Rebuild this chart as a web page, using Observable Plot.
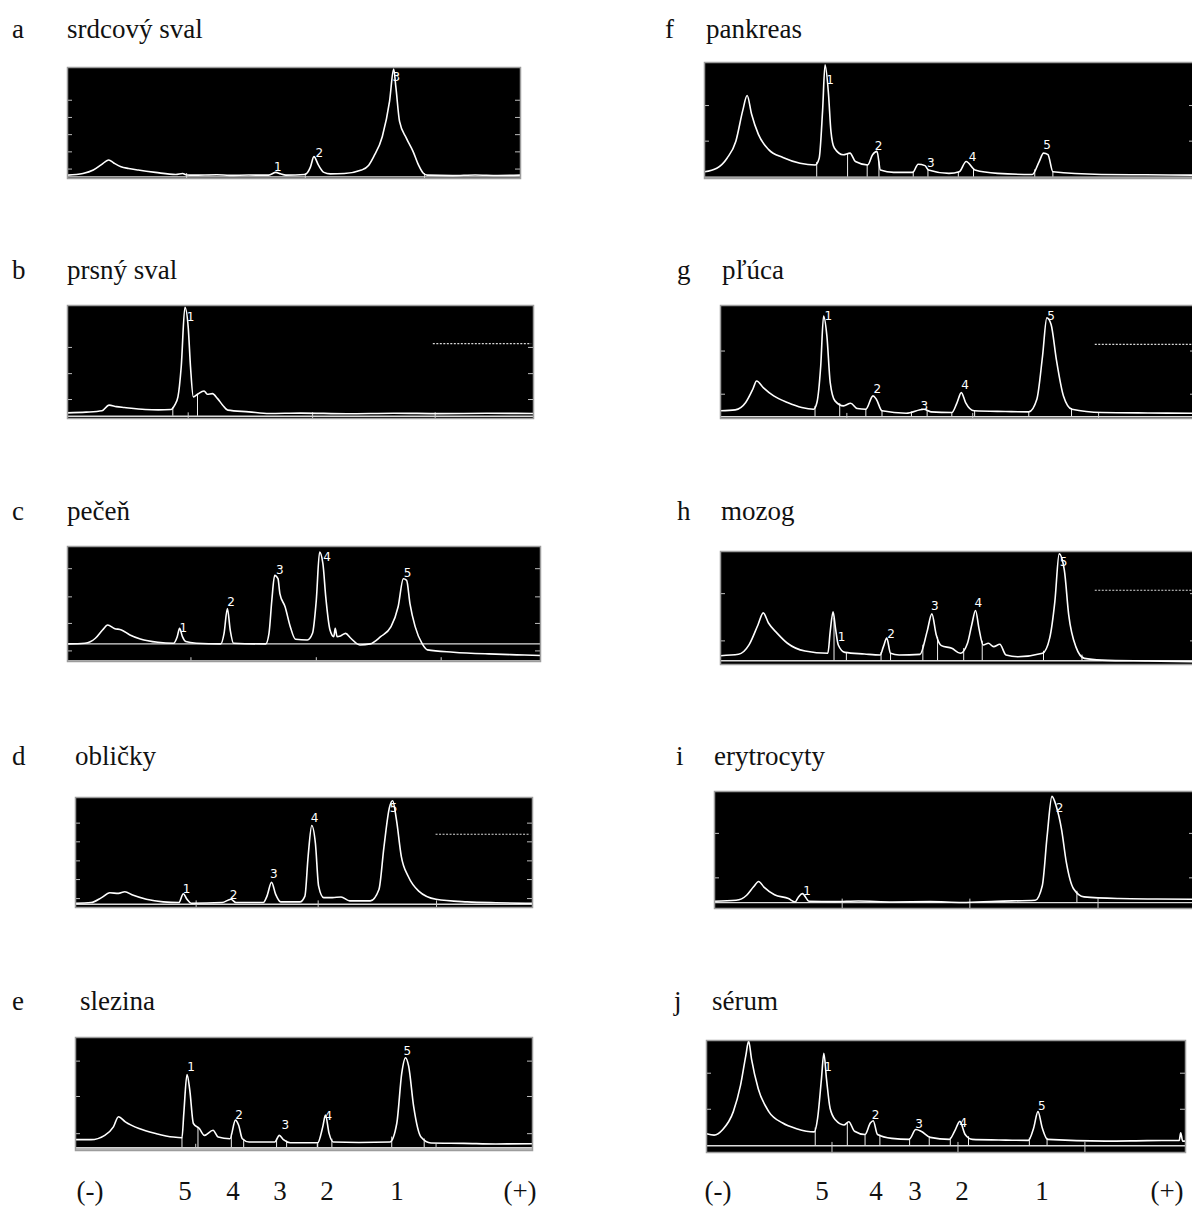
<!DOCTYPE html>
<html>
<head>
<meta charset="utf-8">
<script src="https://cdn.jsdelivr.net/npm/d3@7"></script>
<script src="https://cdn.jsdelivr.net/npm/@observablehq/plot@0.6"></script>
<style>
  html, body { margin: 0; padding: 0; background: #fff; }
  #page { position: relative; width: 1192px; height: 1207px; overflow: hidden; }
  .panel { position: absolute; }
  #labels { position: absolute; left: 0; top: 0; }
  #labels text { font-family: "Liberation Serif", "DejaVu Serif", "Times New Roman", serif; font-size: 27px; fill: #111; }
</style>
</head>
<body>
<div id="page"></div>
<script>
// Densitometric LDH isoenzyme scans of tissue extracts.
// x = migration distance (% of scan length, cathode on the left), y = absorbance (% of full scale).

const tissueLetters = ["a", "b", "c", "d", "e", "f", "g", "h", "i", "j"];
const tissueNames = ["srdcový sval", "prsný sval", "pečeň", "obličky", "slezina",
                     "pankreas", "pľúca", "mozog", "erytrocyty", "sérum"];
const bandLabels = ["(-)", "5", "4", "3", "2", "1", "(+)"];

// ---- a: heart muscle
const traceA = [[0,3],[3.4,4.5],[5.7,7.6],[7.5,12.5],[9.1,16.7],[10.2,14],[11.8,10.6],[13.5,9],[15.6,7.6],[19.4,5.5],
  [23.9,3.6],[25.4,4.5],[26.3,3.2],[27.7,3],[33,3.4],[35.8,2.8],[40,3.1],[44.4,3],[46,5.5],[47,4.2],[48.2,3],
  [52.4,3.6],[53.6,10],[54.4,19.7],[55.4,12],[56.6,5.5],[58,4.2],[61.1,4.5],[64.9,7.6],[66.5,12],[67.6,19.7],
  [69.5,37.9],[71.1,69.7],[72,98.5],[72.5,81.8],[73.3,51.5],[74.8,36.4],[76.3,24.2],[77.5,12],[78.6,4.5],[79.4,3],
  [85,2.6],[90,3.2],[95,2.7],[100,3]];
const peaksA = [{n:"1",x:46.4,y:10},{n:"2",x:55.6,y:23},{n:"3",x:72.6,y:91}];
const cutsA = [];
const sideTicksA = [8.5, 24, 39.5, 55, 70.5];
const axisTicksA = [26.3, 52.5, 78.8];

// ---- b: breast muscle
const traceB = [[0,5],[4,5.6],[7.4,6.8],[8.9,11.8],[10.5,10.5],[12.2,9.7],[16.7,7.9],[19.5,7.6],[22.2,7.9],[23,11.8],
  [23.7,19.1],[24.4,45.6],[25.2,98.5],[25.9,80.9],[26.4,45.6],[27,19.1],[27.9,21.5],[29.3,24.4],[30,21.5],
  [31.1,22],[32.2,17.6],[33.3,11.8],[34.4,7.4],[38.9,5.9],[43.3,4.4],[50,4.8],[60,4.2],[70,4.7],[80,4.3],[90,4.6],[100,4.4]];
const peaksB = [{n:"1",x:26.4,y:90}];
const cutsB = [22.6, 27.9];
const sideTicksB = [16.8, 39.7, 62.9];
const axisTicksB = [25.9, 52.6, 78.9];
const dottedB = {x1:78.5, x2:99.6, y:66.2};

// ---- c: liver
const traceC = [[0,15.3],[3.7,15.9],[5.9,20.2],[7.4,27.4],[8.5,31.7],[9.9,28.8],[11.4,27.4],[13.2,23.1],[15.4,19.6],
  [19.1,16.7],[22.4,15.9],[23.2,21.6],[23.7,28.8],[24.3,21.6],[25,17.3],[27.2,15.9],[32.4,15.3],[33.1,24.5],
  [33.8,46.1],[34.4,27.4],[35.1,15.9],[41.9,15.3],[42.6,24.5],[43.2,53.3],[43.8,74.9],[44.5,72],[44.9,59.1],
  [46,47.6],[47.1,30.3],[48.2,19.3],[50.7,18.7],[51.8,24.5],[52.6,53.3],[53.3,95.1],[54,85],[54.6,56.2],
  [55.5,27.4],[56.3,21.6],[56.6,28.8],[57,21.6],[57.7,22.2],[58.8,24.5],[59.9,20.2],[61.8,14.4],[64,15.3],
  [66.2,21.6],[68.4,30.3],[69.9,47.6],[71,72],[71.7,70.6],[72.4,50.4],[73.5,30.3],[75,15.3],[76.1,10.1],
  [81.6,8.1],[89,6.6],[95,5.8],[100,5.2]];
const peaksC = [{n:"1",x:24.5,y:29},{n:"2",x:34.6,y:52},{n:"3",x:44.9,y:79},{n:"4",x:54.9,y:91},{n:"5",x:71.9,y:77}];
const cutsC = [];
const sideTicksC = [9.2, 33.1, 56.2, 80.7];
const axisTicksC = [26.1, 52.6, 79];

// ---- d: kidney
const traceD = [[0,3.9],[3.4,4.5],[5.7,9],[7.5,13.4],[9.4,12.8],[10.8,14.3],[12.5,11.3],[15.5,7.5],[19.2,5.1],
  [22.6,4.5],[23.6,12.5],[24.4,7.5],[25.3,3.9],[32.1,4.5],[34,7.5],[35.1,4.5],[41.1,4.5],[41.9,10.4],[42.9,23],
  [43.8,11.9],[44.9,5.1],[49.1,5.1],[50.2,10.4],[50.9,46.3],[51.7,74.6],[52.5,58.2],[53.2,19.4],[54.3,9],
  [56.2,9],[58.1,9.6],[60,6],[64.5,6],[66.4,16.4],[67.5,55.2],[68.7,91],[69.4,97],[70.2,80.6],[71.3,46.3],
  [72.8,28.4],[75.1,14.9],[78.9,7.5],[85.7,5.1],[92,4.3],[100,3.9]];
const peaksD = [{n:"1",x:24.3,y:16.4},{n:"2",x:34.6,y:11.3},{n:"3",x:43.4,y:30},{n:"4",x:52.3,y:81.5},{n:"5",x:69.6,y:90.4}];
const cutsD = [];
const sideTicksD = [8.1, 25.4, 42.4, 59.7, 76.7];
const axisTicksD = [26.4, 53.1, 79];
const dottedD = {x1:78.9, x2:99.6, y:66.6};

// ---- e: spleen
const traceE = [[0,9.6],[3.4,9.6],[6.4,13.4],[8.3,20.9],[9.4,29.9],[10.9,25.4],[13.9,19.4],[17.7,14.9],[21.4,11.9],
  [23.3,11.3],[23.7,32.8],[24.4,67.2],[25,53.7],[25.8,23.9],[27.1,19.4],[28.2,13.4],[30.1,17.9],[31.2,11.9],
  [33.8,10.4],[35,26.9],[35.7,22.4],[36.5,10.4],[38,7.5],[43.6,7.5],[44.6,13.4],[45.5,9.6],[47,6.9],[53,6.9],
  [54.1,20.9],[54.7,31.3],[55.5,14.9],[56.4,7.5],[62,7.1],[68.8,7.5],[70.3,23.9],[71.4,68.7],[72.2,82.1],
  [72.9,74.6],[74,38.8],[75.6,11.9],[77.8,6.6],[85,6.3],[92,5.8],[100,6]];
const peaksE = [{n:"1",x:25.3,y:74},{n:"2",x:35.8,y:31.3},{n:"3",x:45.9,y:22.4},{n:"4",x:55.3,y:30},{n:"5",x:72.6,y:88}];
const cutsE = [23.3, 26.8, 34.1, 36.8, 44, 46.2, 53, 56.1, 69.2, 76.3];
const sideTicksE = [14.9, 47.8, 79.1];
const axisTicksE = [26.3, 52.9, 78.9];

// ---- f: pancreas
const traceF = [[0,5.8],[2.5,8.8],[4.6,17.5],[6.4,32.2],[7.8,58.5],[8.7,71.6],[9.6,55.6],[11,38],[13.1,24.9],
  [16,18.1],[19.5,13.2],[22.6,11.7],[23.4,17.5],[24.1,58.5],[24.6,98],[25.3,73.1],[25.8,40.9],[26.5,26.3],
  [28.3,20.5],[29.7,21.9],[30.8,14.6],[33.3,11.7],[34.3,20.5],[35.2,23.4],[35.9,7.3],[38.6,5.3],[42.5,5.3],
  [43.6,12.3],[45,11.1],[45.7,7.3],[49.9,4.4],[52,5.8],[53.4,14.6],[55.2,7.3],[59.8,4.4],[66.9,3.5],[68.3,14.6],
  [69.2,21.9],[70.1,20.5],[71.1,5.8],[81,3.5],[90,3.2],[100,2.9]];
const peaksF = [{n:"1",x:25.6,y:85},{n:"2",x:35.5,y:28},{n:"3",x:46.2,y:13.5},{n:"4",x:54.7,y:18.5},{n:"5",x:69.9,y:29}];
const cutsF = [22.9, 29.2, 33.2, 35.6, 42.6, 45.6, 51.8, 54.9, 67.4, 71.1];
const sideTicksF = [32.2, 62.9];
const axisTicksF = [];

// ---- g: lung
const traceG = [[0,6.8],[3.1,7.6],[5.3,14.1],[6.8,25.9],[7.6,33.2],[9,27.4],[11.2,20],[14.1,14.1],[17.1,9.7],
  [19.6,8.2],[20.3,14.1],[21.1,46.5],[21.7,90.6],[22.4,72.9],[23.1,31.8],[24.1,15.6],[25.9,11.2],[27.4,13.5],
  [28.8,8.8],[30.6,8.2],[32.1,20],[32.8,17.1],[34,6.8],[39.1,4.7],[42.8,8.2],[44.3,5.9],[48.7,5.3],[49.8,14.1],
  [50.7,22.9],[51.6,14.1],[53.4,6.8],[60,6.2],[64.9,5.9],[66.6,17.1],[67.8,55.3],[68.7,89.1],[69.6,83.2],
  [70.7,52.4],[72.2,20],[74,8.2],[80.3,5.3],[90,4.9],[100,4.7]];
const peaksG = [{n:"1",x:22.7,y:90.6},{n:"2",x:33,y:26},{n:"3",x:42.9,y:10.8},{n:"4",x:51.5,y:29.5},{n:"5",x:69.6,y:90.6}];
const cutsG = [19.9, 25.1, 30.6, 34, 40.2, 43.5, 48.7, 53.5, 64.9, 73.9];
const sideTicksG = [21.5, 59.7];
const axisTicksG = [26.6, 53.1, 79.6];
const dottedG = {x1:78.9, x2:100, y:65.6};

// ---- h: brain
const traceH = [[0,7.8],[3.8,9],[6,17.3],[7.9,35.2],[9,45.7],[10.1,36.7],[11.9,27.8],[14.1,18.8],[17.8,11.9],
  [22.6,9.9],[23.1,29.3],[23.7,46.6],[24.2,32.2],[24.8,17.3],[26.2,10.7],[30.3,9.3],[33.6,8.4],[34.3,15.8],
  [35,23.3],[35.8,9.9],[37.6,8.4],[42,9],[43.5,29.3],[44.5,44.8],[45.4,26.6],[46.5,16.7],[48.7,14.3],
  [50.5,9.9],[52,18.8],[52.9,35.2],[53.7,47.8],[54.4,32.2],[55.3,17.3],[56.4,18.8],[57.5,15.8],[58.8,17.9],
  [60.1,8.4],[62.6,6.9],[67.8,9.9],[69.3,23.3],[70.4,56.1],[71.3,97.9],[72.4,83],[73.3,44.2],[74.8,15.8],
  [76.6,5.4],[80.3,3.9],[90,3.1],[100,2.4]];
const peaksH = [{n:"1",x:25.5,y:24},{n:"2",x:35.9,y:26.5},{n:"3",x:45.1,y:51.6},{n:"4",x:54.3,y:54.6},{n:"5",x:72.2,y:90.4}];
const cutsH = [23.9, 26.5, 33.8, 35.8, 42.6, 45.7, 51.2, 55.1, 68, 76.1];
const sideTicksH = [20.9, 62.7];
const axisTicksH = [];
const dottedH = {x1:78.9, x2:100, y:65.7};

// ---- i: erythrocytes
const traceI = [[0,6.2],[4.5,7],[6.7,11.3],[8.1,18.3],[9.2,23.1],[10.3,18.3],[12.5,11.8],[15.4,8.5],[16.8,5.6],
  [17.5,9.9],[18.3,12.7],[19.7,6.2],[25,5.9],[30,6.4],[37.1,5.6],[45,5.9],[51.6,5.1],[58.8,6.2],[66.8,7],
  [68.3,19.7],[69.3,62],[70.3,95.8],[71.2,87.3],[72.3,67.6],[73.3,39.4],[74.8,16.9],[77,9.9],[84.2,8.5],
  [92,8.1],[100,7.9]];
const peaksI = [{n:"1",x:19.3,y:14.6},{n:"2",x:71.9,y:86}];
const cutsI = [75.5];
const sideTicksI = [26.2, 64.2];
const axisTicksI = [26.6, 53.2, 79.9];

// ---- j: serum
const traceJ = [[0,16.7],[1.6,15.5],[3.4,20.5],[5.6,36.5],[7.1,59.9],[8.2,86.3],[8.8,99.4],[9.4,83.3],[10.8,57],
  [13,36.5],[15.9,26.3],[18.8,21.3],[22.5,18.4],[23.2,30.7],[24,65.8],[24.5,88.6],[25.05,65.8],[25.8,39.5],
  [26.9,29.2],[28.7,24.6],[29.7,27.5],[30.9,19],[33.1,16.1],[34.2,26.3],[34.8,28.4],[35.7,16.1],[38.7,12.6],
  [42.3,11.7],[43.7,20.5],[44.8,19],[46.7,13.5],[50.7,11.7],[51.8,19],[52.9,27.8],[54,16.1],[55.5,11.7],
  [61,11.2],[67.2,10.8],[68.3,21.9],[69.2,36.5],[70.1,21.9],[71.2,11.7],[83.3,10.2],[92,10.6],[98.7,10.8],
  [99,17.5],[99.4,10.2],[100,10.2]];
const peaksJ = [{n:"1",x:25.4,y:76},{n:"2",x:35.3,y:33.6},{n:"3",x:44.4,y:25},{n:"4",x:53.6,y:26.3},{n:"5",x:70,y:41.5}];
const cutsJ = [22.7, 29.4, 33.1, 36.2, 42.4, 46.5, 50.9, 54.7, 67.4, 71.1];
const sideTicksJ = [38.6, 70.8];
const axisTicksJ = [26.2, 52.5, 79];

// ---- page layout (pixel boxes of each scan and its heading)
const layout = [
  {box:[67,67,453,111],   letterX:12,  titleX:67,  baseY:38,   axisY:1.5, trace:traceA, peaks:peaksA, cuts:cutsA, side:sideTicksA, ticks:axisTicksA},
  {box:[67,305,466,113],  letterX:12,  titleX:67,  baseY:279,  axisY:2,   trace:traceB, peaks:peaksB, cuts:cutsB, side:sideTicksB, ticks:axisTicksB, dotted:dottedB},
  {box:[67,546,473,115],  letterX:12,  titleX:67,  baseY:520,  axisY:15.3,trace:traceC, peaks:peaksC, cuts:cutsC, side:sideTicksC, ticks:axisTicksC, bottomLine:true},
  {box:[75,797,457,110],  letterX:12,  titleX:75,  baseY:765,  axisY:3,   trace:traceD, peaks:peaksD, cuts:cutsD, side:sideTicksD, ticks:axisTicksD, dotted:dottedD},
  {box:[75,1037,457,113], letterX:12,  titleX:80,  baseY:1010, axisY:2.5, trace:traceE, peaks:peaksE, cuts:cutsE, side:sideTicksE, ticks:axisTicksE, grayBar:true},
  {box:[704,62,490,116],  letterX:665, titleX:706, baseY:38,   axisY:1.2, trace:traceF, peaks:peaksF, cuts:cutsF, side:sideTicksF, ticks:axisTicksF},
  {box:[720,305,475,113], letterX:677, titleX:722, baseY:279,  axisY:1.5, trace:traceG, peaks:peaksG, cuts:cutsG, side:sideTicksG, ticks:axisTicksG, dotted:dottedG},
  {box:[720,551,475,113], letterX:677, titleX:721, baseY:520,  axisY:3.3, trace:traceH, peaks:peaksH, cuts:cutsH, side:sideTicksH, ticks:axisTicksH, dotted:dottedH},
  {box:[714,791,480,117], letterX:676, titleX:714, baseY:765,  axisY:5,   trace:traceI, peaks:peaksI, cuts:cutsI, side:sideTicksI, ticks:axisTicksI},
  {box:[706,1040,479,112],letterX:674, titleX:712, baseY:1010, axisY:6,   trace:traceJ, peaks:peaksJ, cuts:cutsJ, side:sideTicksJ, ticks:axisTicksJ}
];
const bandLabelX = [[90,185,233,280,327,397,520],[718,822,876,915,962,1042,1167]];
const bandLabelBaseline = 1200;

const page = document.getElementById("page");

// height of the scan trace at a given migration distance (for the band separation lines)
function traceAt(trace, x) {
  for (let i = 1; i < trace.length; i++) {
    const [x0, y0] = trace[i - 1], [x1, y1] = trace[i];
    if (x >= x0 && x <= x1) return y0 + (y1 - y0) * (x - x0) / (x1 - x0 || 1);
  }
  return trace[trace.length - 1][1];
}

layout.forEach((p) => {
  const [left, top, w, h] = p.box;
  const tick = 5 / w * 100;
  const marks = [
    Plot.ruleY(p.side, {x1: 0, x2: tick, stroke: "#bdbdbd", strokeWidth: 1}),
    Plot.ruleY(p.side, {x1: 100 - tick, x2: 100, stroke: "#bdbdbd", strokeWidth: 1}),
    Plot.ruleY([p.axisY], {stroke: "#dcdcdc", strokeWidth: 1.4}),
    Plot.ruleX(p.ticks, {y1: 0, y2: p.axisY + (p.bottomLine ? -12 : 3), stroke: "#cfcfcf", strokeWidth: 1}),
    Plot.ruleX(p.cuts, {x: d => d, y1: p.axisY, y2: d => traceAt(p.trace, d), stroke: "#f0f0f0", strokeWidth: 1}),
    Plot.line(p.trace, {x: d => d[0], y: d => d[1], stroke: "#ffffff", strokeWidth: 1.6, curve: "monotone-x"}),
    Plot.text(p.peaks, {x: "x", y: "y", text: "n", fill: "#ffffff", fontSize: 12,
      fontFamily: "DejaVu Sans"})
  ];
  if (p.bottomLine) marks.push(Plot.ruleY([0.8], {stroke: "#bdbdbd", strokeWidth: 1}));
  if (p.grayBar) marks.push(Plot.ruleY([1.2], {stroke: "#b8b8b8", strokeWidth: 3}));
  if (p.dotted) marks.push(Plot.ruleY([p.dotted.y], {x1: p.dotted.x1, x2: p.dotted.x2,
      stroke: "#d8d8d8", strokeWidth: 1.2, strokeDasharray: "2,1.5"}));
  marks.push(Plot.frame({stroke: "#9c9c9c", strokeWidth: 1.5}));

  const svg = Plot.plot({
    width: w, height: h, margin: 0,
    x: {domain: [0, 100], axis: null},
    y: {domain: [0, 100], axis: null},
    style: {background: "#000", overflow: "visible"},
    marks
  });
  svg.classList.add("panel");
  svg.style.left = left + "px";
  svg.style.top = top + "px";
  page.appendChild(svg);
});

// headings and electrophoretic band order
const overlay = d3.select(page).append("svg")
  .attr("id", "labels").attr("width", 1192).attr("height", 1207);

layout.forEach((p, i) => {
  overlay.append("text").attr("x", p.letterX).attr("y", p.baseY).text(tissueLetters[i]);
  overlay.append("text").attr("x", p.titleX).attr("y", p.baseY).text(tissueNames[i]);
});
bandLabelX.forEach((xs) => {
  xs.forEach((x, k) => {
    overlay.append("text").attr("x", x).attr("y", bandLabelBaseline)
      .attr("text-anchor", "middle").text(bandLabels[k]);
  });
});
</script>
</body>
</html>
